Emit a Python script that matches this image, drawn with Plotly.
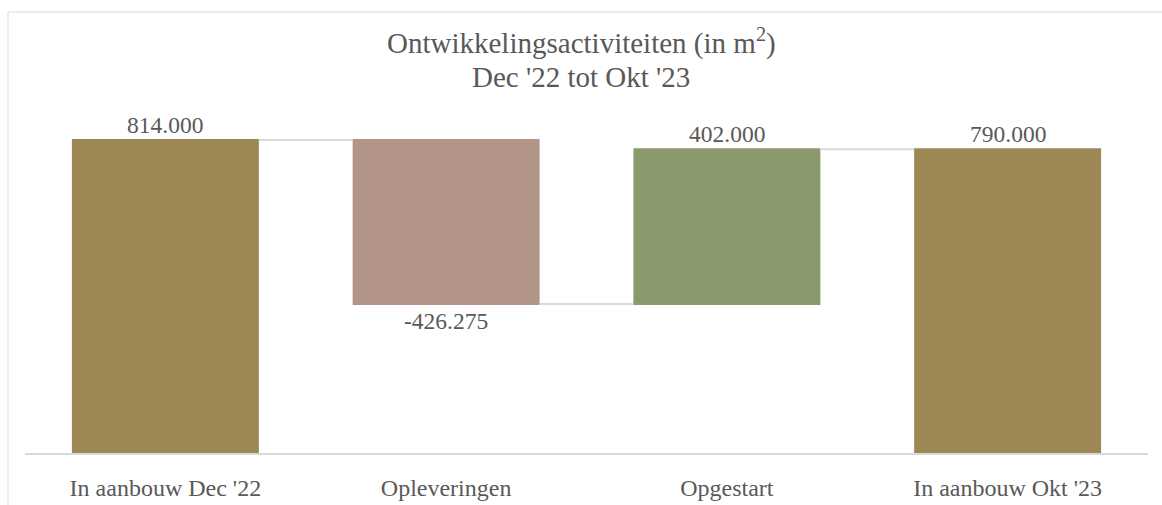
import plotly.graph_objects as go

categories = ["In aanbouw Dec '22", "Opleveringen", "Opgestart", "In aanbouw Okt '23"]
values = [814000, -426275, 402000, 790000]
measures = ["absolute", "relative", "relative", "absolute"]
labels = [f"{v:,.0f}".replace(",", ".") for v in values]
title_lines = ["Ontwikkelingsactiviteiten (in m<sup>2</sup>)", "Dec '22 tot Okt '23"]

FONT = "Liberation Serif"
TXT = "#595959"

# running level at the end of each bar
ends = []
level = 0
for v, m in zip(values, measures):
    level = v if m == "absolute" else level + v
    ends.append(level)

fig = go.Figure(go.Waterfall(
    x=categories,
    y=values,
    measure=measures,
    text=[lab if v < 0 else "" for lab, v in zip(labels, values)],
    textposition="outside",
    textfont=dict(family=FONT, size=23.5, color=TXT),
    totals=dict(marker=dict(color="#9c8755")),
    decreasing=dict(marker=dict(color="#b39488")),
    increasing=dict(marker=dict(color="#8a9a6c")),
    connector=dict(mode="between", line=dict(color="#d9d9d9", width=2)),
    cliponaxis=False,
    hoverinfo="skip",
))

W, H = 1162, 505
L, R, T, B = 25, 14, 68, 52
ph = H - T - B
pw = W - L - R

annotations = []
for txt, yc in zip(title_lines, [42, 77]):
    annotations.append(dict(
        text=txt, xref="paper", yref="paper",
        x=(W / 2 - L) / pw, y=(H - B - yc) / ph,
        xanchor="center", yanchor="middle", showarrow=False,
        font=dict(family=FONT, size=29, color=TXT),
    ))
for cat, lab, v, e in zip(categories, labels, values, ends):
    if v >= 0:
        annotations.append(dict(
            text=lab, x=cat, y=e, xref="x", yref="y",
            xanchor="center", yanchor="bottom", showarrow=False, yshift=0,
            font=dict(family=FONT, size=23.5, color=TXT),
        ))

fig.update_layout(
    template="none",
    width=W, height=H,
    margin=dict(l=L, r=R, t=T, b=B, autoexpand=False),
    paper_bgcolor="white", plot_bgcolor="white",
    showlegend=False,
    waterfallgap=0.334,
    annotations=annotations,
    xaxis=dict(
        automargin=False,
        showgrid=False, showline=True, linecolor="#d9d9d9", linewidth=2,
        ticks="outside", ticklen=12, tickcolor="rgba(0,0,0,0)",
        tickfont=dict(family=FONT, size=24, color=TXT),
        zeroline=False,
    ),
    yaxis=dict(
        automargin=False,
        range=[0, 1001000], visible=False, showgrid=False, zeroline=False,
    ),
    shapes=[dict(
        type="rect", xref="paper", yref="paper",
        x0=(8 - L) / pw, x1=(W + 10 - L) / pw,
        y0=-(B + 10) / ph, y1=(H - B - 12) / ph,
        line=dict(color="#d9d9d9", width=1), fillcolor="rgba(0,0,0,0)",
        layer="below",
    )],
)

fig.write_html(
    "out.html",
    config={"displayModeBar": False},
    post_script="document.body.style.margin='0';document.body.style.overflow='hidden';",
)
